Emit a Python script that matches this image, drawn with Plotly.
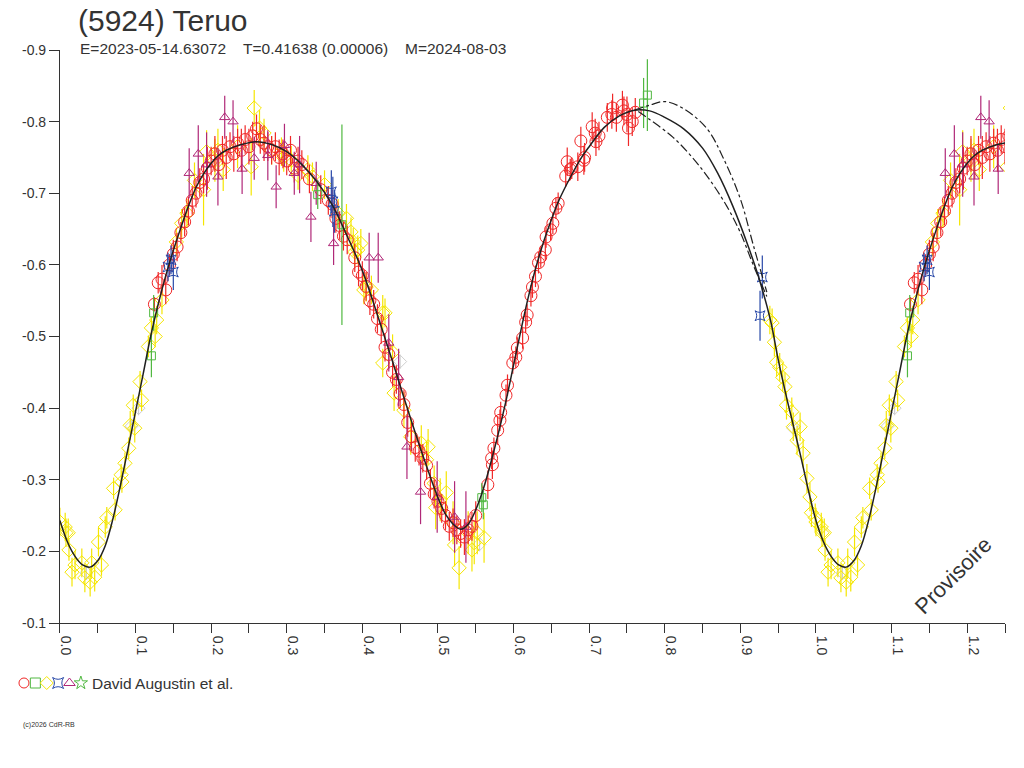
import plotly.graph_objects as go

# ---------------- fit curve (phase, mag) ----------------
curve_phase = [0.000, 0.010, 0.020, 0.030, 0.040, 0.050, 0.060, 0.070, 0.080, 0.090,
               0.100, 0.110, 0.120, 0.130, 0.140, 0.150, 0.160, 0.170, 0.180, 0.190,
               0.200, 0.210, 0.220, 0.240, 0.260, 0.280, 0.300, 0.320, 0.340, 0.360,
               0.380, 0.400, 0.420, 0.440, 0.460, 0.480, 0.500, 0.510, 0.520, 0.530,
               0.540, 0.550, 0.560, 0.570, 0.580, 0.590, 0.600, 0.610, 0.620, 0.630,
               0.640, 0.650, 0.660, 0.675, 0.690, 0.700, 0.720, 0.740, 0.760, 0.780,
               0.800, 0.825, 0.850, 0.870, 0.890, 0.910, 0.925, 0.940, 0.950, 0.960,
               0.970, 0.980, 0.990, 1.000]
curve_mag = [-0.243, -0.213, -0.193, -0.181, -0.178, -0.187, -0.208, -0.245, -0.292, -0.343,
             -0.395, -0.447, -0.500, -0.545, -0.585, -0.620, -0.652, -0.682, -0.708, -0.727,
             -0.742, -0.753, -0.760, -0.768, -0.772, -0.768, -0.758, -0.740, -0.716, -0.684,
             -0.640, -0.592, -0.530, -0.465, -0.398, -0.334, -0.275, -0.252, -0.238, -0.231,
             -0.238, -0.258, -0.287, -0.324, -0.365, -0.410, -0.460, -0.510, -0.557, -0.598,
             -0.633, -0.663, -0.690, -0.722, -0.750, -0.765, -0.792, -0.808, -0.816, -0.815,
             -0.806, -0.790, -0.763, -0.728, -0.682, -0.627, -0.580, -0.522, -0.468, -0.420,
             -0.376, -0.332, -0.285, -0.243]

upper_phase = [0.760, 0.780, 0.800, 0.825, 0.856, 0.877, 0.900, 0.917, 0.935]
upper_mag = [-0.816, -0.823, -0.828, -0.818, -0.790, -0.750, -0.692, -0.628, -0.562]
lower_phase = [0.765, 0.780, 0.811, 0.838, 0.860, 0.882, 0.900, 0.917, 0.935]
lower_mag = [-0.814, -0.803, -0.778, -0.748, -0.718, -0.682, -0.645, -0.600, -0.556]

# ---------------- observations (phase, mag, error) ----------------
red = [
    (0.125, -0.545, 0.010), (0.130, -0.575, 0.015), (0.135, -0.580, 0.020), (0.140, -0.565, 0.020),
    (0.145, -0.600, 0.015), (0.150, -0.615, 0.020), (0.155, -0.625, 0.020), (0.160, -0.645, 0.015),
    (0.165, -0.660, 0.020), (0.170, -0.675, 0.020), (0.175, -0.690, 0.020), (0.180, -0.700, 0.020),
    (0.185, -0.715, 0.020), (0.190, -0.720, 0.020), (0.195, -0.735, 0.030), (0.200, -0.745, 0.020),
    (0.205, -0.755, 0.025), (0.210, -0.740, 0.020), (0.215, -0.760, 0.020), (0.220, -0.750, 0.030),
    (0.225, -0.765, 0.020), (0.230, -0.755, 0.025), (0.235, -0.770, 0.020), (0.240, -0.760, 0.030),
    (0.245, -0.775, 0.020), (0.250, -0.765, 0.025), (0.255, -0.780, 0.020), (0.260, -0.790, 0.020),
    (0.265, -0.775, 0.020), (0.270, -0.770, 0.025), (0.275, -0.765, 0.020), (0.280, -0.760, 0.020),
    (0.285, -0.765, 0.020), (0.290, -0.750, 0.025), (0.295, -0.755, 0.020), (0.300, -0.745, 0.020),
    (0.305, -0.760, 0.020), (0.310, -0.735, 0.020), (0.315, -0.745, 0.020), (0.320, -0.740, 0.020),
    (0.330, -0.720, 0.020), (0.345, -0.705, 0.020), (0.355, -0.690, 0.020), (0.360, -0.685, 0.020),
    (0.365, -0.665, 0.020), (0.370, -0.655, 0.020), (0.375, -0.640, 0.020), (0.380, -0.635, 0.020),
    (0.390, -0.610, 0.020), (0.395, -0.590, 0.020), (0.400, -0.585, 0.020), (0.405, -0.570, 0.020),
    (0.410, -0.550, 0.020), (0.415, -0.545, 0.020), (0.420, -0.525, 0.020), (0.425, -0.510, 0.020),
    (0.430, -0.485, 0.020), (0.435, -0.475, 0.020), (0.440, -0.450, 0.020), (0.445, -0.440, 0.020),
    (0.450, -0.420, 0.020), (0.455, -0.405, 0.020), (0.460, -0.380, 0.020), (0.465, -0.360, 0.020),
    (0.470, -0.345, 0.020), (0.475, -0.340, 0.020), (0.480, -0.330, 0.020), (0.485, -0.320, 0.020),
    (0.490, -0.295, 0.020), (0.495, -0.280, 0.020), (0.500, -0.270, 0.020), (0.505, -0.260, 0.020),
    (0.510, -0.250, 0.020), (0.515, -0.235, 0.020), (0.520, -0.240, 0.020), (0.525, -0.230, 0.020),
    (0.530, -0.225, 0.020), (0.535, -0.220, 0.025), (0.540, -0.230, 0.020), (0.545, -0.235, 0.020),
    (0.550, -0.250, 0.020), (0.566, -0.293, 0.020), (0.571, -0.330, 0.015), (0.572, -0.321, 0.020),
    (0.574, -0.344, 0.015), (0.579, -0.369, 0.020), (0.582, -0.383, 0.015), (0.583, -0.394, 0.015),
    (0.590, -0.418, 0.015), (0.592, -0.432, 0.015), (0.599, -0.463, 0.015), (0.603, -0.471, 0.015),
    (0.605, -0.484, 0.015), (0.612, -0.498, 0.015), (0.616, -0.520, 0.015), (0.618, -0.530, 0.015),
    (0.623, -0.557, 0.015), (0.625, -0.569, 0.015), (0.629, -0.584, 0.015), (0.633, -0.603, 0.015),
    (0.636, -0.611, 0.015), (0.642, -0.621, 0.015), (0.643, -0.639, 0.015), (0.649, -0.649, 0.015),
    (0.652, -0.658, 0.015), (0.656, -0.679, 0.015), (0.659, -0.686, 0.015), (0.669, -0.724, 0.015),
    (0.671, -0.744, 0.020), (0.675, -0.733, 0.015), (0.677, -0.735, 0.015), (0.685, -0.737, 0.020),
    (0.689, -0.773, 0.020), (0.693, -0.746, 0.020), (0.694, -0.750, 0.020), (0.704, -0.793, 0.020),
    (0.708, -0.784, 0.020), (0.709, -0.772, 0.020), (0.713, -0.780, 0.020), (0.724, -0.806, 0.020),
    (0.730, -0.810, 0.020), (0.731, -0.819, 0.020), (0.736, -0.806, 0.020), (0.744, -0.823, 0.020),
    (0.746, -0.815, 0.020), (0.750, -0.810, 0.025), (0.752, -0.791, 0.025), (0.757, -0.800, 0.020),
    (0.761, -0.813, 0.020),
]

yellow = [
    (0.000, -0.241, 0.020), (0.007, -0.234, 0.020), (0.008, -0.226, 0.020), (0.011, -0.226, 0.020),
    (0.012, -0.202, 0.015), (0.016, -0.171, 0.020), (0.020, -0.181, 0.020), (0.029, -0.184, 0.020),
    (0.033, -0.163, 0.020), (0.040, -0.157, 0.020), (0.042, -0.184, 0.020), (0.046, -0.164, 0.020),
    (0.055, -0.181, 0.015), (0.051, -0.213, 0.020), (0.060, -0.234, 0.015), (0.062, -0.247, 0.015),
    (0.073, -0.258, 0.015), (0.071, -0.288, 0.015), (0.082, -0.297, 0.015), (0.081, -0.307, 0.015),
    (0.086, -0.323, 0.015), (0.091, -0.344, 0.015), (0.093, -0.376, 0.020), (0.099, -0.372, 0.020),
    (0.097, -0.404, 0.015), (0.108, -0.411, 0.015), (0.106, -0.437, 0.015), (0.117, -0.486, 0.015),
    (0.121, -0.512, 0.015), (0.126, -0.500, 0.015), (0.128, -0.523, 0.020), (0.135, -0.551, 0.020),
    (0.154, -0.632, 0.020), (0.161, -0.658, 0.020), (0.168, -0.672, 0.020), (0.178, -0.718, 0.025),
    (0.190, -0.705, 0.050), (0.194, -0.758, 0.030), (0.205, -0.746, 0.030), (0.209, -0.760, 0.030),
    (0.216, -0.733, 0.030), (0.235, -0.765, 0.030), (0.253, -0.737, 0.040), (0.257, -0.819, 0.025),
    (0.264, -0.791, 0.025), (0.270, -0.784, 0.020), (0.280, -0.760, 0.020), (0.293, -0.758, 0.020),
    (0.296, -0.750, 0.020), (0.306, -0.746, 0.020), (0.315, -0.725, 0.020), (0.328, -0.733, 0.020),
    (0.334, -0.723, 0.020), (0.350, -0.712, 0.020), (0.368, -0.672, 0.020), (0.379, -0.665, 0.020),
    (0.385, -0.646, 0.020), (0.388, -0.632, 0.020), (0.390, -0.618, 0.020), (0.394, -0.621, 0.020),
    (0.398, -0.630, 0.020), (0.402, -0.565, 0.020), (0.405, -0.569, 0.020), (0.412, -0.565, 0.020),
    (0.427, -0.533, 0.025), (0.430, -0.533, 0.020), (0.427, -0.463, 0.020), (0.440, -0.478, 0.025),
    (0.442, -0.421, 0.025), (0.455, -0.397, 0.025), (0.464, -0.360, 0.025), (0.478, -0.351, 0.025),
    (0.487, -0.346, 0.025), (0.485, -0.328, 0.025), (0.495, -0.295, 0.025), (0.497, -0.261, 0.030),
    (0.503, -0.272, 0.030), (0.511, -0.282, 0.030), (0.520, -0.240, 0.030), (0.522, -0.209, 0.030),
    (0.528, -0.177, 0.030), (0.540, -0.226, 0.030), (0.545, -0.202, 0.030), (0.548, -0.212, 0.030),
    (0.552, -0.226, 0.030), (0.561, -0.219, 0.035),
    (0.939, -0.523, 0.020), (0.942, -0.519, 0.020), (0.945, -0.492, 0.020), (0.948, -0.464, 0.020),
    (0.952, -0.457, 0.020), (0.956, -0.443, 0.020), (0.959, -0.430, 0.020), (0.961, -0.404, 0.020),
    (0.968, -0.395, 0.020), (0.970, -0.374, 0.020), (0.979, -0.374, 0.020), (0.975, -0.355, 0.020),
    (0.983, -0.337, 0.020), (0.988, -0.302, 0.020), (0.992, -0.276, 0.020), (0.994, -0.254, 0.020),
    (0.999, -0.247, 0.020),
]

purple = [
    (0.171, -0.728, 0.035), (0.183, -0.755, 0.040), (0.194, -0.740, 0.045), (0.209, -0.723, 0.040),
    (0.218, -0.806, 0.030), (0.229, -0.800, 0.030), (0.241, -0.734, 0.035), (0.257, -0.749, 0.030),
    (0.275, -0.753, 0.035), (0.286, -0.709, 0.030), (0.297, -0.767, 0.030), (0.310, -0.728, 0.030),
    (0.317, -0.740, 0.040), (0.332, -0.667, 0.035), (0.339, -0.714, 0.030), (0.362, -0.630, 0.030),
    (0.409, -0.610, 0.035), (0.421, -0.610, 0.035), (0.435, -0.491, 0.040), (0.448, -0.443, 0.040),
    (0.459, -0.346, 0.045), (0.477, -0.283, 0.045), (0.499, -0.276, 0.050), (0.522, -0.248, 0.050),
    (0.537, -0.234, 0.050),
]

blue = [
    (0.143, -0.597, 0.020), (0.147, -0.607, 0.020), (0.150, -0.590, 0.025),
    (0.359, -0.702, 0.030), (0.361, -0.688, 0.035), (0.363, -0.675, 0.030),
    (0.929, -0.583, 0.030), (0.926, -0.529, 0.035),
]

green = [
    (0.121, -0.473, 0.030), (0.124, -0.533, 0.025), (0.341, -0.698, 0.020), (0.373, -0.656, 0.140),
    (0.558, -0.275, 0.020), (0.560, -0.265, 0.020), (0.772, -0.826, 0.035), (0.777, -0.837, 0.050),
]

gray = [
    (0.095, -0.375, 0.010), (0.104, -0.400, 0.010), (0.450, -0.465, 0.010), (0.555, -0.210, 0.010),
    (0.970, -0.372, 0.010), (0.035, -0.170, 0.010),
]

x_ticks = [0.05 * i for i in range(26)]
x_labels = ["%.1f" % (0.05 * i) if i % 2 == 0 else "" for i in range(26)]
y_ticks = [-0.9, -0.8, -0.7, -0.6, -0.5, -0.4, -0.3, -0.2, -0.1]
y_labels = ["-0.9", "-0.8", "-0.7", "-0.6", "-0.5", "-0.4", "-0.3", "-0.2", "-0.1"]

legend_symbols = ["circle-open", "square-open", "diamond-open", "star-square-open",
                  "triangle-up-open", "star-open"]
legend_colors = ["#f02828", "#50b840", "#f5e600", "#2848a8", "#b02878", "#50b840"]
observer_text = "David Augustin et al."

INK = "#333333"


def wrap(points):
    """Repeat phases < 0.25 one cycle later (plot runs to phase 1.25)."""
    pts = list(points) + [(p + 1.0, m, e) for (p, m, e) in points if p <= 0.26]
    return [p for p, _, _ in pts], [m for _, m, _ in pts], [e for _, _, e in pts]


def wrap_curve(ph, mg):
    xs = list(ph) + [p + 1.0 for p in ph if 0 < p <= 0.26]
    ys = list(mg) + [m for p, m in zip(ph, mg) if 0 < p <= 0.26]
    return xs, ys


fig = go.Figure()


def add_series(points, symbol, color, size):
    xs, ys, es = wrap(points)
    fig.add_trace(go.Scatter(
        x=xs, y=ys, mode="markers",
        marker=dict(symbol=symbol, size=size, color=color, line=dict(color=color, width=1)),
        error_y=dict(type="data", array=es, visible=True, color=color, thickness=1.2, width=0),
        showlegend=False, hoverinfo="skip"))


add_series(gray, "diamond-open", "#cfcfcf", 10)
add_series(yellow, "diamond-open", "#f5e600", 11)
add_series(red, "circle-open", "#f02828", 12)
add_series(purple, "triangle-up-open", "#b02878", 9)
add_series(blue, "star-square-open", "#2848a8", 9)
add_series(green, "square-open", "#50b840", 8)

cx, cy = wrap_curve(curve_phase, curve_mag)
fig.add_trace(go.Scatter(x=cx, y=cy, mode="lines", line=dict(color="#202020", width=1.5, shape="spline"),
                         showlegend=False, hoverinfo="skip"))
fig.add_trace(go.Scatter(x=upper_phase, y=upper_mag, mode="lines",
                         line=dict(color="#202020", width=1.2, dash="dashdot", shape="spline"),
                         showlegend=False, hoverinfo="skip"))
fig.add_trace(go.Scatter(x=lower_phase, y=lower_mag, mode="lines",
                         line=dict(color="#202020", width=1.2, dash="dashdot", shape="spline"),
                         showlegend=False, hoverinfo="skip"))

# legend symbol row (separate hidden axes)
for i, (s, c) in enumerate(zip(legend_symbols, legend_colors)):
    fig.add_trace(go.Scatter(x=[i], y=[0], mode="markers", xaxis="x2", yaxis="y2",
                             marker=dict(symbol=s, size=10, color=c, line=dict(color=c, width=1)),
                             showlegend=False, hoverinfo="skip"))

# the page body margin is removed (post_script), figure fills the window from (0, 0)
OFF = 0
W, H = 1024, 768
ML, MR, MT, MB = 10, 19, 50, 20
PW, PH = W - ML - MR, H - MT - MB


def px(x):  # window pixel x -> paper fraction
    return (x - OFF - ML) / PW


def py(y):  # window pixel y -> paper fraction
    return (H - MB - (y - OFF)) / PH


# legend row axes: symbols at window x = 22 + 11.4*i, y = 683
lx0, lx1 = px(10), px(109.5)
lxr0 = (10 - 22) / 11.4
lxr1 = (109.5 - 22) / 11.4
ly0, ly1 = py(720), py(650)
lyr0 = -(720 - 683) / 70.0
lyr1 = (683 - 650) / 70.0

fig.update_layout(
    width=W, height=H,
    margin=dict(l=ML, r=MR, t=MT, b=MB),
    paper_bgcolor="white", plot_bgcolor="white",
    hovermode=False,
    font=dict(family="Liberation Sans, Arial, sans-serif", color=INK, size=14),
    xaxis=dict(domain=[px(58), 1], range=[0, 1.25], tickmode="array", tickvals=x_ticks, ticktext=x_labels,
               tickangle=90, ticks="outside", ticklen=9, tickcolor=INK, tickwidth=1,
               showline=True, linecolor=INK, linewidth=1, showgrid=False, zeroline=False,
               tickfont=dict(size=14, color=INK), ticklabelshift=6, anchor="y"),
    yaxis=dict(domain=[py(623), 1], range=[-0.1, -0.9], tickmode="array", tickvals=y_ticks, ticktext=y_labels,
               ticks="outside", ticklen=10, tickcolor=INK, tickwidth=1,
               showline=True, linecolor=INK, linewidth=1, showgrid=False, zeroline=False,
               tickfont=dict(size=14, color=INK), anchor="x"),
    xaxis2=dict(domain=[lx0, lx1], range=[lxr0, lxr1], visible=False, anchor="y2"),
    yaxis2=dict(domain=[ly0, ly1], range=[lyr0, lyr1], visible=False, anchor="x2"),
)

ann = [
    dict(text="(5924) Teruo", x=px(74), y=py(21), size=30),
    dict(text="E=2023-05-14.63072", x=px(76), y=py(49), size=15.5),
    dict(text="T=0.41638 (0.00006)", x=px(239), y=py(49), size=15.5),
    dict(text="M=2024-08-03", x=px(402), y=py(49), size=15.5),
    dict(text=observer_text, x=px(88), y=py(683), size=15.5),
    dict(text="(c)2026 CdR-RB", x=px(19), y=py(725), size=7),
]
for a in ann:
    fig.add_annotation(text=a["text"], x=a["x"], y=a["y"], xref="paper", yref="paper",
                       xanchor="left", yanchor="middle", showarrow=False,
                       font=dict(size=a["size"], color=INK))
fig.add_annotation(text="Provisoire", x=px(953), y=py(575), xref="paper", yref="paper",
                   xanchor="center", yanchor="middle", showarrow=False, textangle=-45,
                   font=dict(size=22, color=INK))

fig.write_html("out.html", config={"displayModeBar": False, "staticPlot": True},
               post_script="document.body.style.margin='0';document.body.style.overflow='hidden';")
